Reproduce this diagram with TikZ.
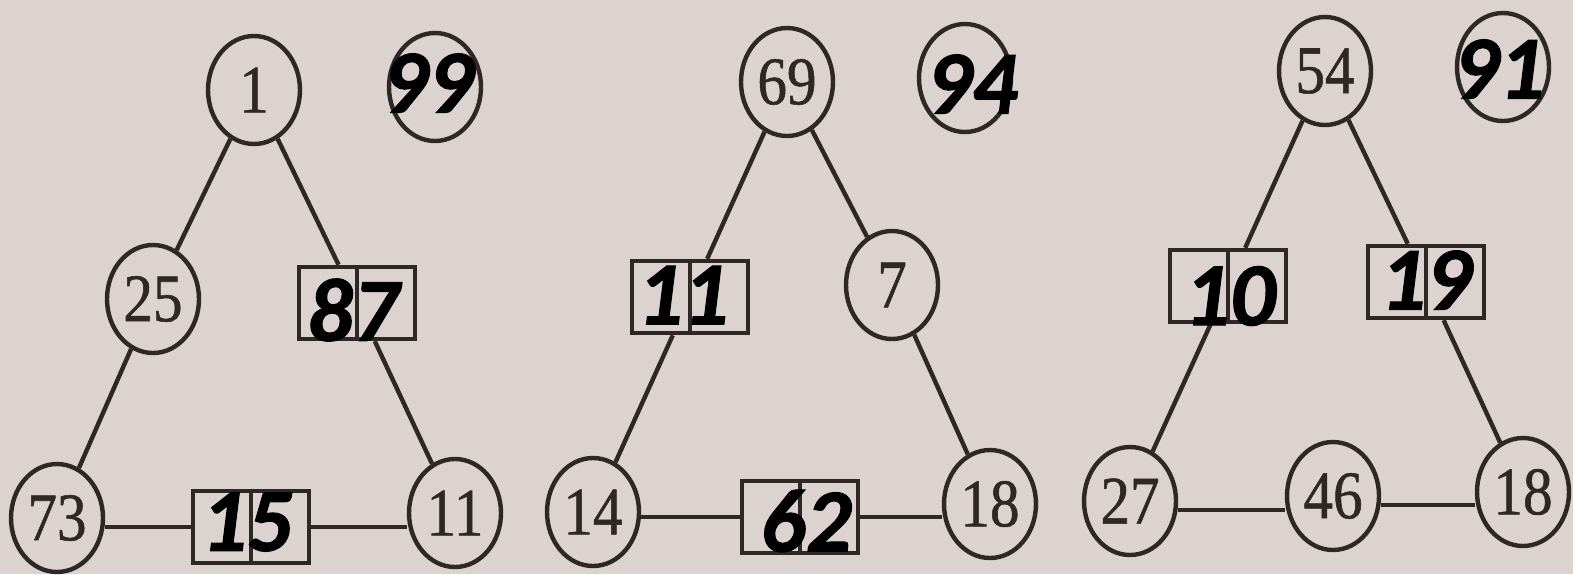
\documentclass[tikz,border=0pt]{standalone}
\usepackage{fontspec}
\usetikzlibrary{shapes.geometric}
\newfontfamily\numserif[FakeStretch=0.87,FakeBold=0.8]{Liberation Serif}
\newfontfamily\numbold[FakeBold=1.2]{Carlito}
\definecolor{paper}{RGB}{220,211,209}
\definecolor{ink}{RGB}{46,39,37}
\begin{document}
\begin{tikzpicture}[x=1pt,y=-1pt,
  disc/.style={ellipse,draw=ink,line width=4.4pt,minimum width=92pt,minimum height=108pt,inner sep=0pt,font=\numserif\fontsize{68}{68}\selectfont,text=ink},
  pair/.style={rectangle,draw=ink,line width=4.4pt,minimum width=116pt,minimum height=72pt,inner sep=0pt},
  answer/.style={font=\numbold\bfseries\itshape\fontsize{90}{90}\selectfont,text=black,inner sep=0pt},
  edge/.style={draw=ink,line width=4.4pt}]
\useasboundingbox (0,0) rectangle (1573,574);
\fill[paper] (0,0) rectangle (1573,574);

% ---- triangle 1
\node[disc] (t1a) at (254,90) {1};
\node[disc] (t1x) at (435,87) {};
\node[disc] (t1b) at (153,299) {25};
\node[pair] (t1p) at (357,303) {};
\node[disc] (t1c) at (57,518) {73};
\node[pair] (t1q) at (251,527) {};
\node[disc] (t1d) at (455,513) {11};
\draw[edge] (t1p.north) -- (t1p.south);
\draw[edge] (t1q.north) -- (t1q.south);
\draw[edge] (t1a) -- (t1b) -- (t1c);
\draw[edge] (t1a) -- (t1p) -- (t1d);
\draw[edge] (t1q.west) -- (t1q.west -| t1c.east);
\draw[edge] (t1q.east) -- (t1q.east -| t1d.west);
\node[answer] (t1xv) at (428,83) {99};
\node[answer] (t1pv) at (353,310) {87};
\node[answer] (t1qv) at (247,522) {15};

% ---- triangle 2
\node[disc] (t2a) at (787,82) {69};
\node[disc] (t2x) at (965,78) {};
\node[pair] (t2p) at (690,297) {};
\node[disc] (t2b) at (892,285) {7};
\node[disc] (t2c) at (593,512) {14};
\node[pair] (t2q) at (800,517) {};
\node[disc] (t2d) at (990,504) {18};
\draw[edge] (t2p.north) -- (t2p.south);
\draw[edge] (t2q.north) -- (t2q.south);
\draw[edge] (t2a) -- (t2p) -- (t2c);
\draw[edge] (t2a) -- (t2b) -- (t2d);
\draw[edge] (t2q.west) -- (t2q.west -| t2c.east);
\draw[edge] (t2q.east) -- (t2q.east -| t2d.west);
\node[answer] (t2xv) at (972,84) {94};
\node[answer] (t2pv) at (683,295) {11};
\node[answer] (t2qv) at (806,521) {62};

% ---- triangle 3
\node[disc] (t3a) at (1325,71) {54};
\node[disc] (t3x) at (1503,67) {};
\node[pair] (t3p) at (1228,286) {};
\node[pair] (t3q) at (1426,282) {};
\node[disc] (t3b) at (1130,501) {27};
\node[disc] (t3c) at (1333,496) {46};
\node[disc] (t3d) at (1523,492) {18};
\draw[edge] (t3p.north) -- (t3p.south);
\draw[edge] (t3q.north) -- (t3q.south);
\draw[edge] (t3a) -- (t3p) -- (t3b);
\draw[edge] (t3a) -- (t3q) -- (t3d);
\draw[edge] ([yshift=-9pt]t3b.east) -- ([yshift=-9pt]t3b.east -| t3c.west);
\draw[edge] ([yshift=-9pt]t3c.east) -- ([yshift=-9pt]t3c.east -| t3d.west);
\node[answer] (t3xv) at (1499,69) {91};
\node[answer] (t3pv) at (1230,296) {10};
\node[answer] (t3qv) at (1426,280) {19};
\end{tikzpicture}
\end{document}
